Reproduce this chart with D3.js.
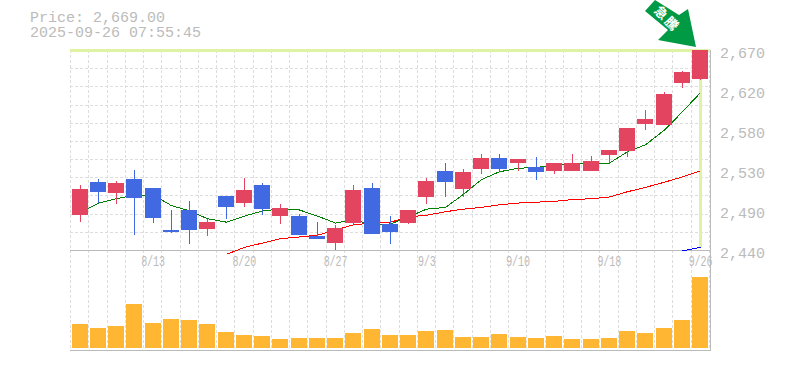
<!DOCTYPE html>
<html>
<head>
<meta charset="utf-8">
<script src="https://cdn.jsdelivr.net/npm/d3@7"></script>
<style>
    html, body { margin: 0; padding: 0; background: #fff; overflow: hidden; }
    svg { display: block; }
    text { fill: #bbb; font-family: "Liberation Mono", monospace; }
    .grid { stroke: #ddd; stroke-dasharray: 3 2; shape-rendering: crispEdges; }
    .frame { stroke: #bbb; stroke-width: 1; shape-rendering: crispEdges; }
    .ma { fill: none; stroke-width: 1; shape-rendering: crispEdges; }
    .axis path, .axis line { display: none; }
</style>
</head>
<body>
<div id="chart"></div>
<script>
var dates = ['8/6', '8/7', '8/8', '8/12', '8/13', '8/14', '8/15', '8/18', '8/19', '8/20', '8/21', '8/22',
    '8/25', '8/26', '8/27', '8/28', '8/29', '9/1', '9/2', '9/3', '9/4', '9/5', '9/8', '9/9', '9/10',
    '9/11', '9/12', '9/16', '9/17', '9/18', '9/19', '9/22', '9/24', '9/25', '9/26'];

var opens = [2480, 2518, 2506, 2521, 2511, 2463, 2485, 2464, 2501, 2493, 2514, 2479,
    2479, 2456, 2448, 2471, 2511, 2469, 2471, 2501, 2530, 2509, 2532, 2545, 2539,
    2535, 2530, 2530, 2531, 2548, 2553, 2584, 2583, 2631, 2636];
var closes = [2510, 2506, 2517, 2499, 2476, 2461, 2462, 2472, 2488, 2508, 2486, 2488,
    2457, 2452, 2465, 2509, 2458, 2460, 2486, 2519, 2517, 2529, 2545, 2532, 2544,
    2529, 2539, 2539, 2542, 2554, 2580, 2590, 2619, 2644, 2669];
var highs = [2514, 2521, 2519, 2531, 2511, 2486, 2496, 2475, 2502, 2522, 2517, 2492,
    2481, 2472, 2468, 2514, 2516, 2478, 2486, 2522, 2540, 2533, 2550, 2550, 2544,
    2546, 2540, 2550, 2547, 2554, 2580, 2601, 2621, 2645, 2669];
var lows = [2472, 2493, 2493, 2456, 2471, 2460, 2446, 2455, 2475, 2489, 2480, 2469,
    2457, 2452, 2439, 2469, 2458, 2446, 2470, 2492, 2501, 2501, 2527, 2530, 2530,
    2519, 2527, 2530, 2530, 2539, 2547, 2578, 2583, 2626, 2634];

var volumes = [24, 20, 22, 44, 25, 29, 28, 24, 16, 13, 12, 9, 10, 10, 10, 15, 19, 13,
    13, 17, 18, 11, 11, 14, 11, 10, 12, 9, 9, 10, 17, 15, 20, 28, 71];

var maShort = [2483, 2494, 2499, 2503, 2503, 2491, 2485, 2476, 2472, 2479, 2485, 2487,
    2486, 2479, 2471, 2475, 2469, 2470, 2478, 2487, 2489, 2504, 2521, 2530, 2534,
    2535, 2537, 2539, 2540, 2540, 2553, 2561, 2578, 2599, 2621];
var maMid = [null, null, null, null, null, null, null, null, 2435, 2443, 2448, 2453,
    2455, 2457, 2463, 2469, 2471, 2472, 2478, 2480, 2484, 2487, 2489, 2492, 2494,
    2495, 2496, 2498, 2499, 2501, 2507, 2512, 2518, 2524, 2531];
var maLong = [null, null, null, null, null, null, null, null, null, null, null, null,
    null, null, null, null, null, null, null, null, null, null, null, null, null,
    null, null, null, null, null, null, null, null, 2439, 2443];

var priceTicks = [2670, 2624, 2578, 2532, 2486, 2440];
var priceLabels = ['2,670', '2,620', '2,580', '2,530', '2,490', '2,440'];
var dateTicks = ['8/13', '8/20', '8/27', '9/3', '9/10', '9/18', '9/26'];
var lastPrice = 'Price: 2,669.00';
var lastTime = '2025-09-26 07:55:45';
var badge = '急騰';

function drawChart() {
    var svg, x, y, v, gridY, center, line, candle;

    svg = d3.select('#chart').append('svg')
        .attr('width', 785)
        .attr('height', 370);

    x = d3.scaleBand().domain(dates).range([70, 708.75]);
    y = d3.scaleLinear().domain([2440, 2670]).range([250, 50]);
    v = d3.scaleLinear().domain([0, 71]).range([348, 277]);
    gridY = d3.scaleLinear().domain([0, 11]).range([50, 250]);

    center = function (d) {
        return Math.round(x(d) + x.bandwidth() / 2 + 0.4);
    };

    // title
    svg.append('text').attr('x', 30).attr('y', 22).style('font-size', '15px').text(lastPrice);
    svg.append('text').attr('x', 30).attr('y', 37).style('font-size', '15px').text(lastTime);

    // grid
    svg.append('g').selectAll('line').data(d3.range(1, 11)).enter().append('line')
        .attr('class', 'grid')
        .attr('x1', 70).attr('x2', 710)
        .attr('y1', function (d) { return Math.round(gridY(d)) + 0.5; })
        .attr('y2', function (d) { return Math.round(gridY(d)) + 0.5; });

    svg.append('g').selectAll('line').data(dates.concat(['end'])).enter().append('line')
        .attr('class', 'grid')
        .attr('x1', function (d) { return Math.round(d === 'end' ? x.range()[1] : x(d)) + 0.5; })
        .attr('x2', function (d) { return Math.round(d === 'end' ? x.range()[1] : x(d)) + 0.5; })
        .attr('y1', 50).attr('y2', 349);

    // frame
    svg.append('line').attr('class', 'frame').attr('x1', 70).attr('x2', 711).attr('y1', 250.5).attr('y2', 250.5);
    svg.append('line').attr('class', 'frame').attr('x1', 70).attr('x2', 711).attr('y1', 350.5).attr('y2', 350.5);
    svg.append('line').attr('class', 'frame').attr('x1', 710.5).attr('x2', 710.5).attr('y1', 50).attr('y2', 351);

    // last price marker, the vertical part stops at the long average
    svg.append('rect').attr('x', 70).attr('y', Math.round(y(2669)) - 2).attr('width', 640).attr('height', 3).attr('fill', '#e0f2a4');
    svg.append('rect').attr('x', center(dates[34]) - 1).attr('y', 50).attr('width', 3)
        .attr('height', Math.round(y(maLong[34])) - 50).attr('fill', '#e0f2a4');

    // volume
    svg.append('g').selectAll('rect').data(dates).enter().append('rect')
        .attr('fill', '#ffb733')
        .attr('shape-rendering', 'crispEdges')
        .attr('x', function (d) { return center(d) - 8; })
        .attr('width', 16)
        .attr('y', function (d, i) { return v(volumes[i]); })
        .attr('height', function (d, i) { return v(0) - v(volumes[i]); });

    // moving averages
    line = d3.line()
        .defined(function (d) { return d.val !== null; })
        .x(function (d) { return center(d.date) + 0.5; })
        .y(function (d) { return y(d.val); });

    [[maShort, '#008000'], [maMid, '#ff0000'], [maLong, '#0000ff']].forEach(function (ma) {
        svg.append('path')
            .attr('class', 'ma')
            .attr('stroke', ma[1])
            .attr('d', line(dates.map(function (d, i) {
                return { date: d, val: ma[0][i] };
            })));
    });

    // candles
    candle = svg.append('g').selectAll('g').data(dates).enter().append('g')
        .attr('shape-rendering', 'crispEdges')
        .attr('fill', function (d, i) { return closes[i] >= opens[i] ? '#e34460' : '#4169e1'; });

    candle.append('rect')
        .attr('x', center)
        .attr('width', 1)
        .attr('y', function (d, i) { return Math.floor(y(highs[i])); })
        .attr('height', function (d, i) { return Math.round(y(lows[i]) - y(highs[i])); });

    candle.append('rect')
        .attr('x', function (d) { return center(d) - 8; })
        .attr('width', 16)
        .attr('y', function (d, i) { return Math.floor(y(Math.max(opens[i], closes[i]))); })
        .attr('height', function (d, i) { return Math.max(2, Math.round(Math.abs(y(opens[i]) - y(closes[i])))); });

    // axes
    svg.append('g')
        .attr('class', 'axis')
        .attr('transform', 'translate(714,-1)')
        .call(d3.axisRight(y).tickValues(priceTicks).tickSize(0).tickPadding(6).tickFormat(function (d, i) {
            return priceLabels[i];
        }))
        .call(function (g) {
            g.select('.domain').remove();
            g.selectAll('text').attr('dy', '0.55em').style('font-size', '15px').attr('fill', null);
        });

    // date labels are narrow but as tall as the price labels
    svg.append('g')
        .attr('class', 'axis')
        .attr('transform', 'translate(1,252)')
        .call(d3.axisBottom(x).tickValues(dateTicks).tickSize(0).tickPadding(5))
        .call(function (g) {
            g.select('.domain').remove();
            g.selectAll('text')
                .style('font-size', '15px')
                .attr('fill', null)
                .attr('dy', '0.62em')
                .attr('lengthAdjust', 'spacingAndGlyphs')
                .attr('textLength', function (d) { return d.length * 6; });
        });

    // badge arrow
    svg.append('polygon')
        .attr('points', '645,11 655,0 679,15 688,9 696,47 658,40 668,30')
        .attr('fill', '#009944');
    svg.append('text')
        .attr('transform', 'translate(667,19) rotate(45)')
        .attr('text-anchor', 'middle')
        .attr('dy', '0.35em')
        .style('font-family', '"Noto Sans CJK JP"')
        .style('font-size', '13px')
        .style('font-weight', 'bold')
        .style('letter-spacing', '2px')
        .style('fill', '#fff')
        .text(badge);
}

drawChart();
</script>
</body>
</html>
